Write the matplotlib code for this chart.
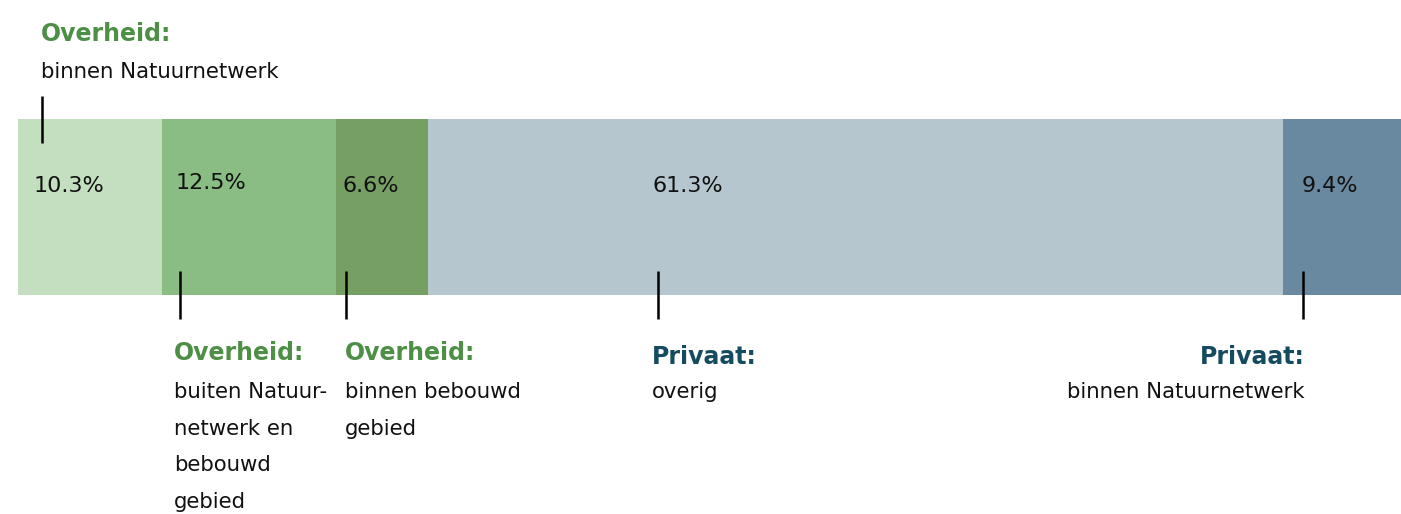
import matplotlib.pyplot as plt
import numpy as np

# shares of the total area (%)
shares = [10.3, 12.5, 6.6, 61.3, 9.4]
pct_labels = ['10.3%', '12.5%', '6.6%', '61.3%', '9.4%']
headers = ['Overheid:', 'Overheid:', 'Overheid:', 'Privaat:', 'Privaat:']
bodies = [
    ['binnen Natuurnetwerk'],
    ['buiten Natuur-', 'netwerk en', 'bebouwd', 'gebied'],
    ['binnen bebouwd', 'gebied'],
    ['overig'],
    ['binnen Natuurnetwerk'],
]
colors = ['#c4dfc0', '#8abd84', '#76a063', '#b5c6ce', '#6989a0']
header_colors = ['#4e8f46', '#4e8f46', '#4e8f46', '#154b5e', '#154b5e']

# pointer position inside each segment (data units from segment start)
tick_offsets = [1.72, 1.31, 0.71, 16.48, 1.41]
pct_dx = [-0.57, -0.28, -0.28, -0.43, -0.07]
pct_y = [186, 183, 186, 186, 186]
label_dx = [-0.07, -0.43, -0.07, -0.43, 0.14]


def main():
    fig = plt.figure(figsize=(14.01, 5.14), dpi=100)
    ax = fig.add_axes([0, 0, 1, 1])
    ax.set_xlim(-1.29, 99.14)
    ax.set_ylim(514, 0)
    ax.axis('off')

    lefts = np.concatenate([[0], np.cumsum(shares)[:-1]])
    ax.barh(207, shares, left=lefts, height=176, color=colors, linewidth=0)

    fs_pct = 16
    fs_head = 17
    fs_body = 15.3
    for i, left in enumerate(lefts):
        tx = left + tick_offsets[i]
        ax.text(tx + pct_dx[i], pct_y[i], pct_labels[i], fontsize=fs_pct,
                color='#111111', ha='left', va='center')
        x0 = tx + label_dx[i]
        if i == 0:
            # label above the bar
            ax.plot([tx, tx], [96, 143], color='black', lw=1.8, solid_capstyle='butt')
            ax.text(x0, 34, headers[i], fontsize=fs_head, fontweight='bold',
                    color=header_colors[i], ha='left', va='center')
            ax.text(x0, 72, bodies[i][0], fontsize=fs_body, color='#111111',
                    ha='left', va='center')
        else:
            ax.plot([tx, tx], [271, 319], color='black', lw=1.8, solid_capstyle='butt')
            ha = 'right' if i == len(shares) - 1 else 'left'
            hy = 353 if headers[i].startswith('Overheid') else 357
            ax.text(x0, hy, headers[i], fontsize=fs_head, fontweight='bold',
                    color=header_colors[i], ha=ha, va='center')
            for j, line in enumerate(bodies[i]):
                ax.text(x0, 392 + j * 36.7, line, fontsize=fs_body, color='#111111',
                        ha=ha, va='center')

    fig.savefig('out.png', dpi=100)


if __name__ == '__main__':
    main()
